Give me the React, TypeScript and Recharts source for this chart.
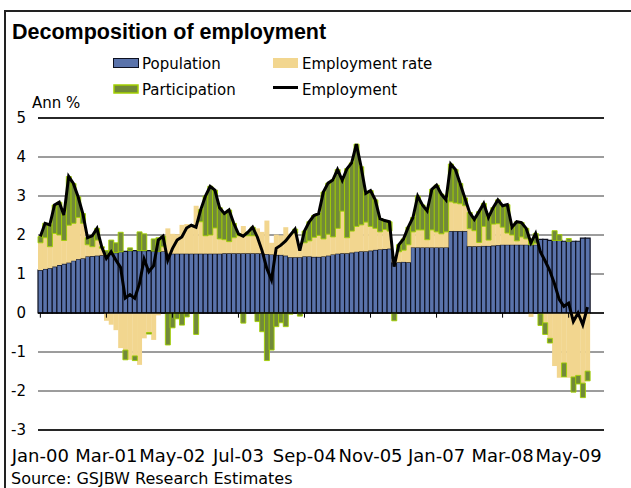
import React from "react";
import {
  Bar,
  CartesianGrid,
  ComposedChart,
  Line,
  ReferenceLine,
  XAxis,
  YAxis,
} from "recharts";

const MONTH_NAMES = ["Jan", "Feb", "Mar", "Apr", "May", "Jun", "Jul", "Aug", "Sep", "Oct", "Nov", "Dec"];
const YEARS = ["00", "01", "02", "03", "04", "05", "06", "07", "08", "09"];
const CATEGORIES = YEARS.flatMap((y) => MONTH_NAMES.map((m) => `${m}-${y}`));
const TICK_LABELS = ["Jan-00", "Mar-01", "May-02", "Jul-03", "Sep-04", "Nov-05", "Jan-07", "Mar-08", "May-09"];
const Y_TICKS = [-3, -2, -1, 0, 1, 2, 3, 4, 5];

// ann % contributions, Jan-00 .. Sep-09
const POPULATION = [
  1.10, 1.13, 1.15, 1.19, 1.23, 1.26, 1.29, 1.34, 1.38, 1.40, 1.45, 1.46, 1.47, 1.48, 1.50,
  1.52, 1.55, 1.57, 1.58, 1.60, 1.60, 1.60, 1.60, 1.60, 1.59, 1.58, 1.58,
  1.52, 1.52, 1.52, 1.52, 1.52, 1.52, 1.52, 1.52, 1.52, 1.52, 1.52, 1.52,
  1.53, 1.53, 1.53, 1.53, 1.53, 1.53, 1.53, 1.53, 1.53,
  1.51, 1.50, 1.49, 1.49, 1.47, 1.43, 1.43, 1.43, 1.45, 1.45, 1.44,
  1.44, 1.45, 1.47, 1.50, 1.52, 1.53, 1.53, 1.55, 1.57, 1.58, 1.58, 1.60, 1.62, 1.63, 1.64, 1.65,
  1.29, 1.30, 1.31, 1.30,
  1.68, 1.68, 1.68, 1.68, 1.68, 1.68, 1.68, 1.68,
  2.10, 2.10, 2.10, 2.10,
  1.71, 1.71, 1.71, 1.72, 1.72, 1.73, 1.74,
  1.75, 1.75, 1.75, 1.75, 1.75, 1.75, 1.75, 1.75,
  1.89, 1.89, 1.86, 1.86, 1.86, 1.84, 1.84, 1.84, 1.84, 1.92, 1.92,
];

const EMPLOYMENT_RATE = [
  0.70, 0.80, 0.55, 0.85, 0.77, 0.60, 0.96, 0.96, 1.07, 0.90, 0.30, 0.24, 0.40, 0.18, -0.20,
  -0.30, -0.44, -0.90, -0.95, -1.20, -1.10, -1.33, -0.65, -0.50, -0.69, -0.06, 0.12,
  0.65, 0.51, 0.50, 0.74, 0.76, 0.70, 1.23, 0.82, 0.46, 0.48, 0.66, 0.38,
  0.35, 0.30, 0.40, 0.45, 0.70, 0.45, 0.45, 0.64, 0.55,
  0.86, 0.30, 0.52, 0.50, 0.73, 0.60, 0.62, 0.25, 0.35, 0.40, 0.50,
  0.55, 0.45, 0.55, 0.45, 0.65, 1.08, 0.40, 0.55, 0.65, 0.68, 0.75, 0.62, 0.55, 0.45, 0.50, 0.45,
  0.10, 0.27, 0.30, 0.45,
  0.40, 0.45, 0.45, 0.20, 0.45, 0.40, 0.35, 0.40,
  0.75, 0.72, 0.70, 0.65,
  0.45, 0.40, 0.10, 0.50, 0.15, 0.55, 0.55,
  0.45, 0.30, 0.25, 0.10, 0.20, 0.15, -0.10, 0.04,
  -0.02, -0.25, -0.65, -1.36, -1.66, -1.28, -1.66, -1.64, -1.60, -1.80, -1.49,
];

const PARTICIPATION = [
  0.16, 0.37, 0.56, 0.73, 0.84, 0.65, 1.25, 1.02, 0.53, 0.25, 0.18, 0.28, 0.30, 0.04, 0.10,
  0.35, 0.25, 0.50, -0.25, 0.07, -0.12, 0.48, 0.43, -0.04, 0.31, 0.35, 0.27,
  -0.82, -0.38, -0.15, -0.31, -0.10, 0.03, -0.55, 0.31, 1.02, 1.25, 0.97, 0.80,
  0.67, 0.81, 0.37, 0.05, -0.26, 0.09, 0.22, -0.22, -0.48,
  -1.22, -0.95, -0.35, -0.25, -0.35, -0.03, 0.10, -0.08, 0.30, 0.49, 0.56,
  0.56, 1.20, 1.31, 1.46, 1.51, 0.79, 1.77, 1.75, 2.11, 1.49, 0.74, 0.92, 0.73, 0.34, 0.23, 0.24,
  -0.20, 0.18, 0.29, 0.45,
  0.37, 0.87, 0.64, 0.74, 1.04, 1.20, 1.02, 0.82,
  0.97, 0.86, 0.52, 0.20,
  0.42, 0.29, 0.79, 0.59, 0.58, 0.42, 0.61,
  0.55, 0.73, 0.20, 0.49, 0.37, 0.27, 0.15, 0.25,
  -0.30, -0.30, -0.12, 0.25, 0.15, -0.36, 0.07, -0.39, -0.22, -0.37, -0.25,
];

const EMPLOYMENT = [
  1.96, 2.30, 2.26, 2.77, 2.84, 2.51, 3.50, 3.32, 2.98, 2.55, 1.93, 1.98, 2.17, 1.70, 1.40,
  1.57, 1.36, 1.17, 0.38, 0.47, 0.38, 0.75, 1.38, 1.06, 1.21, 1.87, 1.97,
  1.35, 1.65, 1.87, 1.95, 2.18, 2.25, 2.20, 2.65, 3.00, 3.25, 3.15, 2.70,
  2.55, 2.64, 2.30, 2.03, 1.97, 2.07, 2.20, 1.95, 1.60,
  1.15, 0.85, 1.66, 1.74, 1.85, 2.00, 2.15, 1.60, 2.10, 2.34, 2.50,
  2.55, 3.10, 3.33, 3.41, 3.68, 3.40, 3.70, 3.85, 4.33, 3.75, 3.07, 3.14, 2.90, 2.42, 2.37, 2.34,
  1.19, 1.75, 1.90, 2.20,
  2.45, 3.00, 2.77, 2.62, 3.17, 3.28, 3.05, 2.90,
  3.82, 3.68, 3.32, 2.95,
  2.58, 2.40, 2.60, 2.81, 2.45, 2.70, 2.90,
  2.75, 2.78, 2.20, 2.34, 2.32, 2.17, 1.80, 2.04,
  1.57, 1.34, 1.09, 0.75, 0.35, 0.17, 0.25, -0.22, 0.00, -0.30, 0.15,
];

const BLUE = "#5a73ab";
const BLUE_EDGE = "#0d1020";
const TAN = "#f2d68f";
const OLIVE = "#71893a";
const LIME = "#a3d000";

const data = CATEGORIES.map((month, i) => ({
  month,
  population: POPULATION[i] ?? null,
  employmentRate: EMPLOYMENT_RATE[i] ?? null,
  participation: PARTICIPATION[i] ?? null,
  employment: EMPLOYMENT[i] ?? null,
}));

function Overlay() {
  return (
    <svg width={631} height={488} style={{ position: "absolute", left: 0, top: 0, pointerEvents: "none" }}>
      <text x={12} y={39} fontFamily="'Liberation Sans', Arial, sans-serif" fontWeight="bold" fontSize={21.5} fill="#000">
        Decomposition of employment
      </text>
      <rect x={113.5} y={58.5} width={25} height={9} fill={BLUE} stroke={BLUE_EDGE} />
      <text x={142} y={69} fontSize={15} fill="#000">Population</text>
      <rect x={273} y={58} width={25} height={10} fill={TAN} />
      <text x={302} y={69} fontSize={15} fill="#000">Employment rate</text>
      <rect x={114} y={85} width={24} height={8} fill={OLIVE} stroke={LIME} strokeWidth={1.5} />
      <text x={142} y={95} fontSize={15} fill="#000">Participation</text>
      <line x1={273} x2={298} y1={87.5} y2={87.5} stroke="#000" strokeWidth={3} />
      <text x={302} y={95} fontSize={15} fill="#000">Employment</text>
      <text x={32} y={108} fontSize={15} fill="#000">Ann %</text>
      <text x={11} y={484} fontSize={16} fill="#000">Source:  GSJBW Research Estimates</text>
    </svg>
  );
}

export default function App() {
  return (
    <div
      style={{
        position: "absolute",
        left: 0,
        top: 0,
        width: 631,
        height: 488,
        overflow: "hidden",
        background: "#fff",
        fontFamily: "'DejaVu Sans', Verdana, sans-serif",
      }}
    >
      <div
        style={{
          position: "absolute",
          left: 4,
          top: 10,
          width: 700,
          height: 600,
          borderLeft: "2px solid #222",
          borderTop: "2px solid #222",
        }}
      />
      <div style={{ position: "absolute", left: 0, top: 0 }}>
        <ComposedChart
          width={631}
          height={488}
          data={data}
          stackOffset="sign"
          barCategoryGap={0}
          barGap={0}
          margin={{ top: 118, right: 27, bottom: 28, left: 0 }}
        >
          <CartesianGrid vertical={false} stroke="#3a3a3a" />
          <XAxis
            dataKey="month"
            interval={13}
            axisLine={false}
            tickLine={false}
            tickSize={6}
            tickMargin={13}
            height={30}
            tick={{ fontSize: 18, fill: "#000" }}
          />
          <YAxis
            type="number"
            domain={[-3, 5]}
            ticks={Y_TICKS}
            interval={0}
            width={38}
            axisLine={false}
            tickLine={false}
            tickSize={6}
            tickMargin={6}
            tick={{ fontSize: 15, fill: "#000" }}
          />
          <Bar dataKey="population" stackId="a" fill={BLUE} stroke={BLUE_EDGE} strokeWidth={1.2} isAnimationActive={false} />
          <Bar dataKey="employmentRate" stackId="a" fill={TAN} isAnimationActive={false} />
          <Bar dataKey="participation" stackId="a" fill={OLIVE} stroke={LIME} strokeWidth={0.9} isAnimationActive={false} />
          <ReferenceLine y={0} stroke="#000" strokeWidth={1.5} />
          <ReferenceLine y={5} stroke="#000" strokeWidth={1.5} />
          <ReferenceLine y={-3} stroke="#000" strokeWidth={1.5} />
          {TICK_LABELS.map((t) => (
            <ReferenceLine
              key={t}
              segment={[
                { x: t, y: 0 },
                { x: t, y: -0.12 },
              ]}
              stroke="#000"
            />
          ))}
          <Line
            dataKey="employment"
            type="linear"
            stroke="#000"
            strokeWidth={3}
            dot={false}
            isAnimationActive={false}
          />
        </ComposedChart>
      </div>
      <Overlay />
    </div>
  );
}
